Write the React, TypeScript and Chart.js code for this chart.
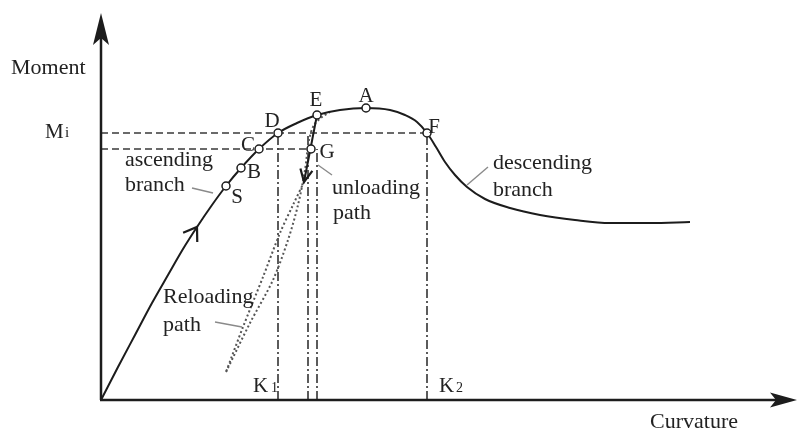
import React, { useEffect, useRef } from "react";
import { Chart, registerables } from "chart.js";

Chart.register(...registerables);

// Moment–curvature envelope (arbitrary units): ascending branch, peak A, descending branch
const curvature = [0, 17, 34, 51, 67, 82, 96, 111, 125, 140, 158, 177, 196, 216, 239, 265, 289, 304, 316, 326, 335, 344, 354, 366, 384, 409, 439, 474, 509, 549, 589];
const moment = [0, 33, 65, 97, 125, 151, 173, 195, 214, 232, 251, 267, 277, 285, 290, 292, 290, 285, 278, 267, 253, 238, 225, 213, 201, 192, 185, 180, 177, 177, 178];

// Marked states on the curve
const markNames = ["S", "B", "C", "D", "E", "A", "F", "G"];
const markCurvature = [125, 140, 158, 177, 216, 265, 326, 210];
const markMoment = [214, 232, 251, 267, 285, 292, 267, 251];

// Reference levels
const M_I = 267; // Mi
const M_G = 251; // level through C and G
const K1 = 177;
const K2 = 326;
const K_E = 207;
const K_G = 216;

// Unloading from E (solid, with arrow)
const unloadCurvature = [216, 203];
const unloadMoment = [285, 218];

// Unloading continuation (dotted)
const unloadTailCurvature = [203, 192, 179, 162, 142, 125];
const unloadTailMoment = [218, 195, 167, 123, 73, 28];

// Reloading path (dotted) back to the envelope
const reloadCurvature = [125, 149, 172, 187, 197, 204, 208, 213, 221, 229];
const reloadMoment = [28, 77, 120, 160, 195, 230, 260, 275, 283, 288];

// Axis extents
const X_MIN = -101;
const X_MAX = 698;
const Y_MIN = -34;
const Y_MAX = 400;
const X_AXIS_TIP = 696;
const Y_AXIS_TIP = 387;

const pts = (xs: number[], ys: number[]) => xs.map((v, i) => ({ x: v, y: ys[i] }));

const INK = "#1c1c1c";
const TEXT = "#222222";
const SERIF = '"Liberation Serif", "DejaVu Serif", serif';

function dart(ctx: CanvasRenderingContext2D, tx: number, ty: number, dx: number, dy: number, len: number, half: number, notch: number) {
  const l = Math.hypot(dx, dy);
  const ux = dx / l, uy = dy / l;
  const vx = -uy, vy = ux;
  const bx = tx - ux * len, by = ty - uy * len;
  const nx = tx - ux * (len - notch), ny = ty - uy * (len - notch);
  ctx.beginPath();
  ctx.moveTo(tx, ty);
  ctx.lineTo(bx + vx * half, by + vy * half);
  ctx.lineTo(nx, ny);
  ctx.lineTo(bx - vx * half, by - vy * half);
  ctx.closePath();
  ctx.fill();
}

function chevron(ctx: CanvasRenderingContext2D, tx: number, ty: number, dx: number, dy: number, len: number, ang: number) {
  const a = Math.atan2(dy, dx);
  ctx.beginPath();
  ctx.moveTo(tx - len * Math.cos(a - ang), ty - len * Math.sin(a - ang));
  ctx.lineTo(tx, ty);
  ctx.lineTo(tx - len * Math.cos(a + ang), ty - len * Math.sin(a + ang));
  ctx.stroke();
}

const overlay = {
  id: "overlay",
  afterDatasetsDraw(chart: any) {
    const ctx: CanvasRenderingContext2D = chart.ctx;
    const xs = chart.scales.x;
    const ys = chart.scales.y;
    const px = (v: number) => xs.getPixelForValue(v);
    const py = (v: number) => ys.getPixelForValue(v);

    ctx.save();
    // axes
    ctx.strokeStyle = INK;
    ctx.fillStyle = INK;
    ctx.lineWidth = 2.5;
    ctx.lineCap = "butt";
    ctx.beginPath();
    ctx.moveTo(px(0), py(0));
    ctx.lineTo(px(0), py(Y_AXIS_TIP) + 20);
    ctx.moveTo(px(0) - 1, py(0));
    ctx.lineTo(px(X_AXIS_TIP) - 20, py(0));
    ctx.stroke();
    dart(ctx, px(0), py(Y_AXIS_TIP), 0, -1, 32, 8, 7);
    dart(ctx, px(X_AXIS_TIP), py(0), 1, 0, 27, 7.5, 6);

    // direction arrow on the ascending branch
    ctx.lineWidth = 2.2;
    ctx.lineJoin = "miter";
    const i = 6;
    const ax = px(curvature[i]), ay = py(moment[i]);
    const dx = px(curvature[i + 1]) - px(curvature[i - 1]);
    const dy = py(moment[i + 1]) - py(moment[i - 1]);
    chevron(ctx, ax, ay, dx, dy, 15, 0.6);

    // arrow at the end of the unloading segment
    const ux = px(unloadCurvature[1]), uy = py(unloadMoment[1]);
    chevron(ctx, ux, uy, ux - px(unloadCurvature[0]), uy - py(unloadMoment[0]), 14, 0.45);

    // text
    ctx.fillStyle = TEXT;
    ctx.textBaseline = "middle";
    const put = (s: string, x: number, y: number, size: number, align: CanvasTextAlign = "left") => {
      ctx.font = `${size}px ${SERIF}`;
      ctx.textAlign = align;
      ctx.fillText(s, px(x), py(y));
    };
    put("Moment", -90, 332, 22);
    put("Curvature", 549, -22, 22);
    put("ascending", 24, 240, 22);
    put("branch", 24, 215, 22);
    put("unloading", 231, 212, 22);
    put("path", 232, 187, 22);
    put("Reloading", 62, 103, 22);
    put("path", 62, 75, 22);
    put("descending", 392, 237, 22);
    put("branch", 392, 210, 22);

    // Mi, K1, K2 with small suffix
    put("M", -56, 268, 21);
    put("i", -36, 267, 15);
    put("K", 152, 14, 21);
    put("1", 170, 12, 14);
    put("K", 338, 14, 21);
    put("2", 355, 12, 14);

    // point letters
    const letterPos: Record<string, [number, number]> = {
      S: [136, 203], B: [153, 228], C: [147, 255], D: [171, 279],
      E: [215, 300], A: [265, 304], F: [333, 273], G: [226, 248],
    };
    markNames.forEach((n) => {
      const [lx, ly] = letterPos[n];
      put(n, lx, ly, 21, "center");
    });
    ctx.restore();
  },
};

export default function App() {
  const ref = useRef<HTMLCanvasElement | null>(null);

  useEffect(() => {
    if (!ref.current) return;
    const dash = { borderColor: "#3a3a3a", borderWidth: 1.4, borderDash: [7, 4], pointRadius: 0, showLine: true, clip: false as any };
    const dashDot = { borderColor: "#333333", borderWidth: 1.6, borderDash: [9, 3, 2, 3], pointRadius: 0, showLine: true, clip: false as any };
    const dotted = { borderColor: "#555555", borderWidth: 2, borderDash: [2, 2.5], pointRadius: 0, showLine: true, tension: 0.3, clip: false as any };
    const leader = { borderColor: "#8a8a8a", borderWidth: 1.4, pointRadius: 0, showLine: true, clip: false as any };

    const chart = new Chart(ref.current, {
      type: "scatter",
      data: {
        datasets: [
          {
            label: "states",
            data: pts(markCurvature, markMoment),
            pointRadius: 4,
            pointBorderWidth: 1.5,
            pointBackgroundColor: "#ffffff",
            pointBorderColor: INK,
            showLine: false,
            clip: false as any,
          },
          {
            label: "envelope",
            data: pts(curvature, moment),
            showLine: true,
            borderColor: INK,
            borderWidth: 2,
            pointRadius: 0,
            cubicInterpolationMode: "monotone",
            clip: false as any,
          },
          {
            label: "unloading",
            data: pts(unloadCurvature, unloadMoment),
            showLine: true,
            borderColor: INK,
            borderWidth: 2,
            pointRadius: 0,
            clip: false as any,
          },
          { label: "unloading tail", data: pts(unloadTailCurvature, unloadTailMoment), ...dotted },
          { label: "reloading", data: pts(reloadCurvature, reloadMoment), ...dotted },
          { label: "Mi level", data: pts([0, K2], [M_I, M_I]), ...dash },
          { label: "G level", data: pts([0, markCurvature[7]], [M_G, M_G]), ...dash },
          { label: "K1", data: pts([K1, K1], [0, M_I]), ...dashDot },
          { label: "KE", data: pts([K_E, K_E], [0, M_I]), ...dashDot },
          { label: "KG", data: pts([K_G, K_G], [0, M_G]), ...dashDot },
          { label: "K2", data: pts([K2, K2], [0, M_I]), ...dashDot },
          { label: "leader asc", data: pts([91, 112], [212, 207]), ...leader },
          { label: "leader rel", data: pts([114, 141], [78, 73]), ...leader },
          { label: "leader desc", data: pts([366, 387], [215, 233]), ...leader },
          { label: "leader unl", data: pts([217, 231], [235, 225]), ...leader },
        ],
      },
      options: {
        responsive: false,
        animation: false,
        layout: { padding: 0, autoPadding: false },
        plugins: { legend: { display: false }, tooltip: { enabled: false } },
        scales: {
          x: { type: "linear", min: X_MIN, max: X_MAX, display: false },
          y: { type: "linear", min: Y_MIN, max: Y_MAX, display: false },
        },
      },
      plugins: [overlay],
    });
    return () => chart.destroy();
  }, []);

  return (
    <div style={{ position: "fixed", left: 0, top: 0, width: 799, height: 434, background: "#ffffff" }}>
      <canvas ref={ref} width={799} height={434} style={{ display: "block", width: 799, height: 434 }} />
    </div>
  );
}
